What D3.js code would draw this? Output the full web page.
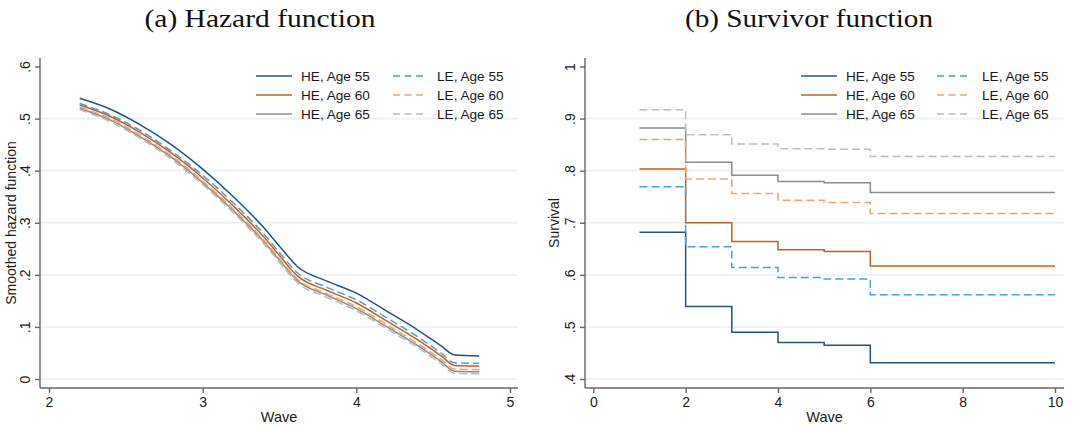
<!DOCTYPE html>
<html>
<head>
<meta charset="utf-8">
<script src="https://cdn.jsdelivr.net/npm/d3@7"></script>
<style>
  html, body { margin: 0; padding: 0; background: #ffffff; }
  svg { display: block; }
  .tick text { font-family: "Liberation Sans", Arial, Helvetica, sans-serif; font-size: 14px; fill: #1a1a1a; }
</style>
</head>
<body>
<svg id="chart" width="1074" height="427"></svg>
<script>
// ---- Series labels, colours and line styles ----
const seriesNames = ["HE, Age 55", "HE, Age 60", "HE, Age 65", "LE, Age 55", "LE, Age 60", "LE, Age 65"];
const seriesColors = ["#22557e", "#c2601f", "#8c8c8c", "#4aa0d8", "#f2a36b", "#bdbdbd"];
const seriesDashed = [false, false, false, true, true, true];

// ---- (a) Smoothed hazard, by wave ----
const hazardWave = [2.2, 2.4, 2.6, 2.8, 3.0, 3.2, 3.4, 3.5, 3.62, 3.8, 4.0, 4.2, 4.4, 4.55, 4.64, 4.8];
const hazHE55 = [0.539, 0.518, 0.487, 0.449, 0.403, 0.350, 0.290, 0.255, 0.215, 0.189, 0.165, 0.130, 0.094, 0.064, 0.046, 0.044];
const hazHE60 = [0.526, 0.504, 0.472, 0.433, 0.386, 0.332, 0.272, 0.237, 0.197, 0.171, 0.146, 0.111, 0.075, 0.045, 0.026, 0.025];
const hazHE65 = [0.520, 0.497, 0.464, 0.425, 0.377, 0.323, 0.263, 0.228, 0.188, 0.162, 0.135, 0.100, 0.064, 0.034, 0.015, 0.014];
const hazLE55 = [0.529, 0.507, 0.476, 0.437, 0.391, 0.338, 0.278, 0.243, 0.203, 0.177, 0.152, 0.117, 0.081, 0.050, 0.031, 0.030];
const hazLE60 = [0.522, 0.500, 0.467, 0.428, 0.380, 0.326, 0.266, 0.231, 0.191, 0.165, 0.139, 0.104, 0.068, 0.038, 0.019, 0.018];
const hazLE65 = [0.517, 0.494, 0.461, 0.421, 0.373, 0.319, 0.259, 0.224, 0.184, 0.158, 0.131, 0.096, 0.060, 0.030, 0.011, 0.010];

// ---- (b) Survivor function, by wave ----
const survWave = [1, 2, 3, 4, 5, 6, 7, 8, 9, 10];
const survHE55 = [0.682, 0.539, 0.490, 0.470, 0.465, 0.431, 0.431, 0.431, 0.431, 0.431];
const survHE60 = [0.803, 0.700, 0.664, 0.648, 0.645, 0.617, 0.617, 0.617, 0.617, 0.617];
const survHE65 = [0.882, 0.816, 0.791, 0.779, 0.777, 0.758, 0.758, 0.758, 0.758, 0.758];
const survLE55 = [0.769, 0.654, 0.614, 0.595, 0.592, 0.562, 0.562, 0.562, 0.562, 0.562];
const survLE60 = [0.860, 0.784, 0.756, 0.743, 0.739, 0.718, 0.718, 0.718, 0.718, 0.718];
const survLE65 = [0.917, 0.869, 0.851, 0.842, 0.841, 0.827, 0.827, 0.827, 0.827, 0.827];

// ---- Axis ticks ----
const hazXTicks = [2, 3, 4, 5];
const hazYTicks = [0, 0.1, 0.2, 0.3, 0.4, 0.5, 0.6];
const hazYLabels = ["0", ".1", ".2", ".3", ".4", ".5", ".6"];
const survXTicks = [0, 2, 4, 6, 8, 10];
const survYTicks = [0.4, 0.5, 0.6, 0.7, 0.8, 0.9, 1];
const survYLabels = [".4", ".5", ".6", ".7", ".8", ".9", "1"];

const svg = d3.select("#chart");
const SANS = '"Liberation Sans", Arial, Helvetica, sans-serif';
const SERIF = '"Liberation Serif", "Times New Roman", serif';

function drawPanel(cfg) {
  const g = svg.append("g");
  const x = d3.scaleLinear().domain(cfg.xDomain).range([cfg.xRange[0], cfg.xRange[1]]);
  const y = d3.scaleLinear().domain(cfg.yDomain).range([cfg.yRange[0], cfg.yRange[1]]);

  // horizontal grid lines (none at the top label)
  g.append("g").selectAll("line")
    .data(cfg.yTicks.slice(0, -1))
    .join("line")
    .attr("x1", cfg.left).attr("x2", cfg.right)
    .attr("y1", d => y(d)).attr("y2", d => y(d))
    .attr("stroke", "#eaf1f2").attr("stroke-width", 1.6);

  // series
  const line = d3.line().x(d => x(d[0])).y(d => y(d[1])).curve(cfg.curve);
  cfg.series.forEach((vals, i) => {
    const pts = cfg.xs.map((w, k) => [w, vals[k]]);
    g.append("path")
      .attr("d", line(pts))
      .attr("fill", "none")
      .attr("stroke", seriesColors[i])
      .attr("stroke-width", 1.5)
      .attr("stroke-dasharray", seriesDashed[i] ? "8,4" : null)
      .attr("stroke-linejoin", "miter");
  });

  // axis lines
  g.append("line")
    .attr("x1", cfg.left).attr("x2", cfg.right)
    .attr("y1", cfg.bottom).attr("y2", cfg.bottom)
    .attr("stroke", "#666").attr("stroke-width", 1.4);
  g.append("line")
    .attr("x1", cfg.left).attr("x2", cfg.left)
    .attr("y1", cfg.top).attr("y2", cfg.bottom)
    .attr("stroke", "#666").attr("stroke-width", 1.4);

  // x axis ticks
  const xa = g.append("g")
    .attr("transform", `translate(0,${cfg.bottom})`)
    .call(d3.axisBottom(x).tickValues(cfg.xTicks).tickFormat(d3.format("d")).tickSize(5).tickPadding(5));
  xa.select(".domain").remove();
  xa.selectAll(".tick line").attr("stroke", "#666").attr("stroke-width", 1.4);
  xa.selectAll(".tick text").attr("y", 19).attr("dy", null);

  // y axis ticks, labels turned vertically
  const ya = g.append("g")
    .attr("transform", `translate(${cfg.left},0)`)
    .call(d3.axisLeft(y).tickValues(cfg.yTicks).tickFormat((d, i) => cfg.yLabels[i]).tickSize(5));
  ya.select(".domain").remove();
  ya.selectAll(".tick line").attr("stroke", "#666").attr("stroke-width", 1.4);
  ya.selectAll(".tick text")
    .attr("transform", "rotate(-90)")
    .attr("x", 0).attr("y", -10.5).attr("dy", null)
    .attr("text-anchor", "middle");

  // axis titles
  g.append("text")
    .attr("x", (cfg.left + cfg.right) / 2).attr("y", 422)
    .attr("text-anchor", "middle")
    .attr("font-family", SANS).attr("font-size", 14.5).attr("fill", "#1a1a1a")
    .text("Wave");
  g.append("text")
    .attr("transform", `translate(${cfg.yTitleX},${(cfg.top + cfg.bottom) / 2}) rotate(-90)`)
    .attr("text-anchor", "middle")
    .attr("font-family", SANS).attr("font-size", 14).attr("fill", "#1a1a1a")
    .text(cfg.yTitle);

  // panel caption
  g.append("text")
    .attr("x", cfg.capX).attr("y", 27)
    .attr("text-anchor", "middle")
    .attr("font-family", SERIF).attr("font-size", 25).attr("fill", "#111")
    .attr("textLength", cfg.capW).attr("lengthAdjust", "spacingAndGlyphs")
    .text(cfg.caption);

  // legend: two columns of three rows
  const rows = [76, 95, 114];
  seriesNames.forEach((name, i) => {
    const col = i < 3 ? 0 : 1;
    const r = rows[i % 3];
    const lx = cfg.legend[col];
    g.append("line")
      .attr("x1", lx[0]).attr("x2", lx[1]).attr("y1", r).attr("y2", r)
      .attr("stroke", seriesColors[i]).attr("stroke-width", 1.5)
      .attr("stroke-dasharray", seriesDashed[i] ? "7,4.5" : null);
    g.append("text")
      .attr("x", lx[2]).attr("y", r + 5)
      .attr("font-family", SANS).attr("font-size", 13.6).attr("fill", "#1a1a1a")
      .text(name);
  });
}

// (a) Hazard function
drawPanel({
  xDomain: [2, 5], xRange: [49, 510],
  yDomain: [0, 0.6], yRange: [379, 66.5],
  left: 40, right: 518, top: 58, bottom: 388,
  xs: hazardWave,
  series: [hazHE55, hazHE60, hazHE65, hazLE55, hazLE60, hazLE65],
  curve: d3.curveMonotoneX,
  xTicks: hazXTicks, yTicks: hazYTicks, yLabels: hazYLabels,
  yTitle: "Smoothed hazard function", yTitleX: 15.5,
  caption: "(a) Hazard function", capX: 260, capW: 231,
  legend: [[256, 292, 301], [393, 425, 437]]
});

// (b) Survivor function
drawPanel({
  xDomain: [0, 10], xRange: [593.3, 1055],
  yDomain: [0.4, 1], yRange: [379, 66.5],
  left: 585, right: 1064, top: 58, bottom: 388,
  xs: survWave,
  series: [survHE55, survHE60, survHE65, survLE55, survLE60, survLE65],
  curve: d3.curveStepAfter,
  xTicks: survXTicks, yTicks: survYTicks, yLabels: survYLabels,
  yTitle: "Survival", yTitleX: 558.5,
  caption: "(b) Survivor function", capX: 809, capW: 248,
  legend: [[801, 837, 846], [937, 970, 982]]
});
</script>
</body>
</html>
